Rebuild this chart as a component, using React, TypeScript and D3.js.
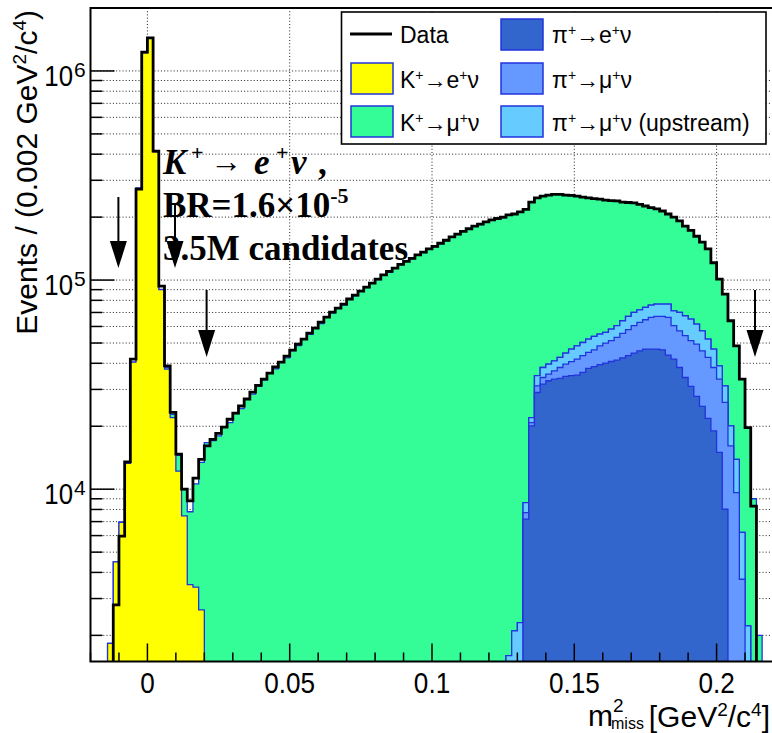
import React from 'react';
import * as d3 from 'd3';

// Histogram binning: Events / (0.002 GeV^2/c^4), m2miss from -0.02 to 0.22
const binLow = -0.02;
const binWidth = 0.002;
const nBins = 120;

// Data (black line), first bin index = 4
const dataStart = 4;
const dataCounts = [
  2800, 5960, 13500, 41900, 272000, 1230000, 1440000, 414000, 93600, 38900,
  23300, 14700, 10000, 8800, 11300, 13900, 16100, 17300, 18500, 19800,
  21600, 23100, 25000, 27000, 29100, 31400, 33600, 35900, 38400, 40500,
  43300, 46200, 49400, 52200, 55800, 58900, 62900, 66500, 70300, 73500,
  76800, 81200, 84800, 88600, 92600, 96800, 101000, 106000, 110000, 114000,
  119000, 123000, 127000, 132000, 136000, 141000, 145000, 150000, 155000, 161000,
  166000, 171000, 176000, 181000, 185000, 190000, 194000, 197000, 200000, 205000,
  207000, 212000, 218000, 236000, 247000, 252000, 255000, 257000, 257000, 255000,
  254000, 252000, 249000, 247000, 245000, 244000, 241000, 240000, 239000, 236000,
  235000, 234000, 230000, 226000, 222000, 219000, 214000, 207000, 200000, 192000,
  181000, 173000, 162000, 152000, 141000, 121000, 101000, 85700, 63900, 48500,
  33600, 19700, 8300,
];

// K+ -> e+ nu (yellow), first bin index = 3
const keStart = 3;
const keCounts = [
  1830, 4490, 6950, 13300, 40500, 275000, 1220000, 1430000, 410000, 90000,
  37500, 22000, 12200, 7450, 3500, 3400, 2650, 1300,
];

// K+ -> mu+ nu (green), first bin index = 12
const kmuStart = 12;
const kmuCounts = [
  200, 600, 800, 2300, 2500, 4300, 7200, 10800, 15400, 17100,
  18000, 19900, 20800, 23000, 24300, 27100, 28500, 31000, 33200, 36100,
  37600, 40400, 42500, 46000, 48600, 52000, 55000, 59000, 62000, 66300,
  69500, 73400, 76000, 81000, 84000, 88500, 92000, 96500, 100500, 105500,
  109000, 114000, 118500, 123000, 126500, 131500, 135500, 141000, 144000, 149500,
  154000, 161000, 165000, 171000, 175000, 180500, 184000, 189500, 193500, 196500,
  198500, 203500, 204900, 209700, 209400, 214000, 212000, 214000, 215000, 216000,
  214000, 210000, 207000, 203500, 198700, 194800, 191200, 188800, 184800, 181700,
  178500, 172100, 168000, 164000, 157900, 152000, 146100, 142200, 137200, 130200,
  128700, 122000, 113500, 107900, 100400, 94800, 88800, 74200, 62100, 54500,
  43800, 34600, 27400, 17500, 9000, 2000,
];

// pi+ -> e+ nu (dark blue), first bin index = 76
const pieStart = 76;
const pieCounts = [
  7190, 20100, 29000, 31800, 33000, 33600, 33900, 34600, 34900, 35100,
  36200, 37800, 38600, 39400, 40100, 40800, 41400, 42500, 43500, 44700,
  45900, 46800, 46800, 46800, 46400, 43800, 41900, 38200, 34200, 31000,
  27800, 24900, 21800, 19000, 15000, 8020,
];

// pi+ -> mu+ nu (blue), first bin index = 76
const pimuStart = 76;
const pimuCounts = [
  540, 700, 2200, 2400, 2500, 3200, 4300, 5000, 5800, 6800,
  7300, 7300, 7800, 9100, 9900, 10500, 11800, 13100, 14400, 15800,
  16800, 17800, 19500, 20200, 20600, 22500, 18600, 19000, 20000, 20300,
  21600, 21000, 20900, 19200, 18600, 18000, 16100, 9640, 3710,
];

// pi+ -> mu+ nu upstream (light blue), first bin index = 73
const pimuUpStart = 73;
const pimuUpCounts = [
  1600, 2100, 2300, 900, 1200, 3700, 4000, 4100, 4300, 4500,
  5100, 6100, 6600, 6800, 7100, 7400, 6700, 6200, 7000, 7300,
  8300, 9100, 9500, 9400, 9400, 9600, 9800, 9800, 10500, 10800,
  12800, 13300, 13800, 12200, 11300, 9500, 8600, 5300, 5200, 4000,
  4260, 2500, 2220,
];

const xMajorTicks = [0, 0.05, 0.1, 0.15, 0.2];
const xTickLabels = ['0', '0.05', '0.1', '0.15', '0.2'];
const yDecades = [4, 5, 6];
const cutArrows = [-0.0102, 0.0097, 0.0208, 0.2135];

const OUTLINE = '#2233dd';
const COL_KE = '#ffff00';
const COL_KMU = '#34fc96';
const COL_PIE = '#3366cc';
const COL_PIMU = '#6699ff';
const COL_PIMUUP = '#66ccff';

function expand(start: number, vals: number[]): number[] {
  const out = new Array(nBins).fill(0);
  vals.forEach((v, i) => {
    if (start + i < nBins) out[start + i] = v;
  });
  return out;
}

export default function App() {
  const left = 90.5, right = 773.5, top = 8, bottom = 661.5;
  const x = d3.scaleLinear().domain([binLow, binLow + nBins * binWidth]).range([left, right]);
  const y = d3.scaleLog().domain([1500, 2e6]).range([bottom, top]);

  const yy = (v: number) => (v > 0 ? Math.min(y(v), bottom + 1) : bottom + 1);

  const stepPath = (vals: number[], closed: boolean) => {
    let p = `M${x(binLow)},${bottom + 1}`;
    vals.forEach((v, i) => {
      const xl = x(binLow + i * binWidth);
      const xr = x(binLow + (i + 1) * binWidth);
      const h = yy(v);
      p += `L${xl},${h}L${xr},${h}`;
    });
    p += `L${x(binLow + nBins * binWidth)},${bottom + 1}`;
    if (closed) p += 'Z';
    return p;
  };

  const layers = [
    { vals: expand(pieStart, pieCounts), fill: COL_PIE },
    { vals: expand(pimuStart, pimuCounts), fill: COL_PIMU },
    { vals: expand(pimuUpStart, pimuUpCounts), fill: COL_PIMUUP },
    { vals: expand(keStart, keCounts), fill: COL_KE },
    { vals: expand(kmuStart, kmuCounts), fill: COL_KMU },
  ];
  const cum: number[][] = [];
  layers.forEach((l, li) => {
    cum.push(l.vals.map((v, i) => v + (li > 0 ? cum[li - 1][i] : 0)));
  });
  const dataVals = expand(dataStart, dataCounts);

  const yMinor: number[] = [];
  for (let d = 3; d <= 6; d++) {
    for (let k = 1; k <= 9; k++) {
      const v = k * Math.pow(10, d);
      if (v >= 1500 && v <= 2e6) yMinor.push(v);
    }
  }
  const xMinor: number[] = [];
  for (let k = -2; k <= 22; k++) xMinor.push(k / 100);

  const gridStyle = { stroke: '#222', strokeWidth: 1, strokeDasharray: '1 2.2' };

  const arrowSpec = [
    { y1: 197, tip: 268 },
    { y1: 205, tip: 268 },
    { y1: 290, tip: 357 },
    { y1: 290, tip: 357 },
  ];

  return (
    <svg
      width={772}
      height={733}
      style={{ position: 'absolute', left: 0, top: 0, background: '#fff' }}
      fontFamily="'Liberation Sans', Arial, Helvetica, sans-serif"
    >
      <defs>
        <clipPath id="plotClip">
          <rect x={left} y={top} width={right - left} height={bottom - top} />
        </clipPath>
      </defs>
      <rect x={0} y={0} width={772} height={733} fill="#fff" />

      <g>
        {yMinor.map((v) => (
          <line key={'gy' + v} x1={left} x2={right} y1={y(v)} y2={y(v)} style={gridStyle} />
        ))}
        {xMajorTicks.map((v) => (
          <line key={'gx' + v} x1={x(v)} x2={x(v)} y1={top} y2={bottom} style={gridStyle} />
        ))}
      </g>

      <g clipPath="url(#plotClip)">
        {layers
          .map((l, li) => (
            <path
              key={'L' + li}
              d={stepPath(cum[li], true)}
              fill={l.fill}
              stroke={OUTLINE}
              strokeWidth={1.3}
            />
          ))
          .reverse()}
        <path d={stepPath(dataVals, false)} fill="none" stroke="#000" strokeWidth={2.8} strokeLinejoin="miter" />
      </g>

      <g stroke="#000" strokeWidth={1.5}>
        {yMinor.map((v) => {
          const major = yDecades.some((d) => Math.abs(v - Math.pow(10, d)) < 1);
          return <line key={'ty' + v} x1={left} x2={left + (major ? 24 : 12)} y1={y(v)} y2={y(v)} />;
        })}
        {xMinor.map((v) => {
          const major = Math.abs(Math.round(v * 100) % 5) === 0;
          return <line key={'tx' + v} x1={x(v)} x2={x(v)} y1={bottom} y2={bottom - (major ? 18 : 9)} />;
        })}
      </g>

      <rect x={left} y={top} width={right - left} height={bottom - top} fill="none" stroke="#000" strokeWidth={2} />

      {yDecades.map((d) => (
        <g key={'yl' + d}>
          <text x={0} y={0} fontSize={30} textAnchor="end" transform={`translate(73,${y(Math.pow(10, d)) + 15}) scale(0.86,1)`}>
            10
          </text>
          <text x={74} y={y(Math.pow(10, d)) + 6} fontSize={21}>
            {d}
          </text>
        </g>
      ))}

      {xMajorTicks.map((v, i) => (
        <text key={'xl' + v} x={0} y={0} fontSize={30} textAnchor="middle" transform={`translate(${x(v)},693) scale(0.87,1)`}>
          {xTickLabels[i]}
        </text>
      ))}

      <text transform="translate(37,10) rotate(-90)" fontSize={30} textAnchor="end">
        Events / (0.002 GeV<tspan dy={-11} fontSize={19}>2</tspan>
        <tspan dy={11}>/c</tspan>
        <tspan dy={-11} fontSize={19}>4</tspan>
        <tspan dy={11}>)</tspan>
      </text>

      <text x={588} y={726} fontSize={30}>m</text>
      <text x={613} y={712} fontSize={19}>2</text>
      <text x={611} y={729} fontSize={16}>miss</text>
      <text x={770} y={727} fontSize={30} textAnchor="end">
        [GeV<tspan dy={-11} fontSize={19}>2</tspan>
        <tspan dy={11}>/c</tspan>
        <tspan dy={-11} fontSize={19}>4</tspan>
        <tspan dy={11}>]</tspan>
      </text>

      <g>
        <rect x={341.5} y={12} width={424.5} height={132} fill="#fff" stroke="#000" strokeWidth={1.6} />
        <line x1={350} x2={392} y1={34} y2={34} stroke="#000" strokeWidth={3} />
        <rect x={351} y={63} width={42} height={31} fill={COL_KE} stroke={OUTLINE} strokeWidth={1.5} />
        <rect x={351} y={106} width={42} height={31} fill={COL_KMU} stroke={OUTLINE} strokeWidth={1.5} />
        <rect x={501} y={19} width={42} height={31} fill={COL_PIE} stroke={OUTLINE} strokeWidth={1.5} />
        <rect x={501} y={63} width={42} height={31} fill={COL_PIMU} stroke={OUTLINE} strokeWidth={1.5} />
        <rect x={501} y={106} width={42} height={31} fill={COL_PIMUUP} stroke={OUTLINE} strokeWidth={1.5} />
        <g fontSize={23}>
          <text x={400} y={43}>Data</text>
          <text x={400} y={88}>
            K<tspan dy={-8} fontSize={14}>+</tspan>
            <tspan dy={8}>→e</tspan>
            <tspan dy={-8} fontSize={14}>+</tspan>
            <tspan dy={8}>ν</tspan>
          </text>
          <text x={400} y={131}>
            K<tspan dy={-8} fontSize={14}>+</tspan>
            <tspan dy={8}>→μ</tspan>
            <tspan dy={-8} fontSize={14}>+</tspan>
            <tspan dy={8}>ν</tspan>
          </text>
          <text x={552} y={43}>
            π<tspan dy={-8} fontSize={14}>+</tspan>
            <tspan dy={8}>→e</tspan>
            <tspan dy={-8} fontSize={14}>+</tspan>
            <tspan dy={8}>ν</tspan>
          </text>
          <text x={552} y={88}>
            π<tspan dy={-8} fontSize={14}>+</tspan>
            <tspan dy={8}>→μ</tspan>
            <tspan dy={-8} fontSize={14}>+</tspan>
            <tspan dy={8}>ν</tspan>
          </text>
          <text x={552} y={131}>
            π<tspan dy={-8} fontSize={14}>+</tspan>
            <tspan dy={8}>→μ</tspan>
            <tspan dy={-8} fontSize={14}>+</tspan>
            <tspan dy={8}>ν (upstream)</tspan>
          </text>
        </g>
      </g>

      <g fontFamily="'Liberation Serif', 'Times New Roman', serif" fontWeight="bold" fill="#000">
        <text x={163} y={174} fontSize={35} fontStyle="italic">K</text>
        <text x={191} y={160} fontSize={22}>+</text>
        <text x={210} y={172} fontSize={32}>→</text>
        <text x={254} y={174} fontSize={35} fontStyle="italic">e</text>
        <text x={276} y={160} fontSize={22}>+</text>
        <text x={291} y={174} fontSize={35} fontStyle="italic">ν</text>
        <text x={318} y={174} fontSize={35}>,</text>
        <text x={163} y={217} fontSize={35}>
          BR=1.6×10<tspan dy={-14} fontSize={22}>-5</tspan>
        </text>
        <text x={163} y={260} fontSize={35}>3.5M candidates</text>
      </g>

      {cutArrows.map((v, i) => {
        const ax = x(v);
        const s = arrowSpec[i];
        const headLen = 27;
        return (
          <g key={'ar' + i}>
            <line x1={ax} x2={ax} y1={s.y1} y2={s.tip - headLen + 2} stroke="#000" strokeWidth={2} />
            <path d={`M${ax - 8.5},${s.tip - headLen}L${ax + 8.5},${s.tip - headLen}L${ax},${s.tip}Z`} fill="#000" />
          </g>
        );
      })}
    </svg>
  );
}
